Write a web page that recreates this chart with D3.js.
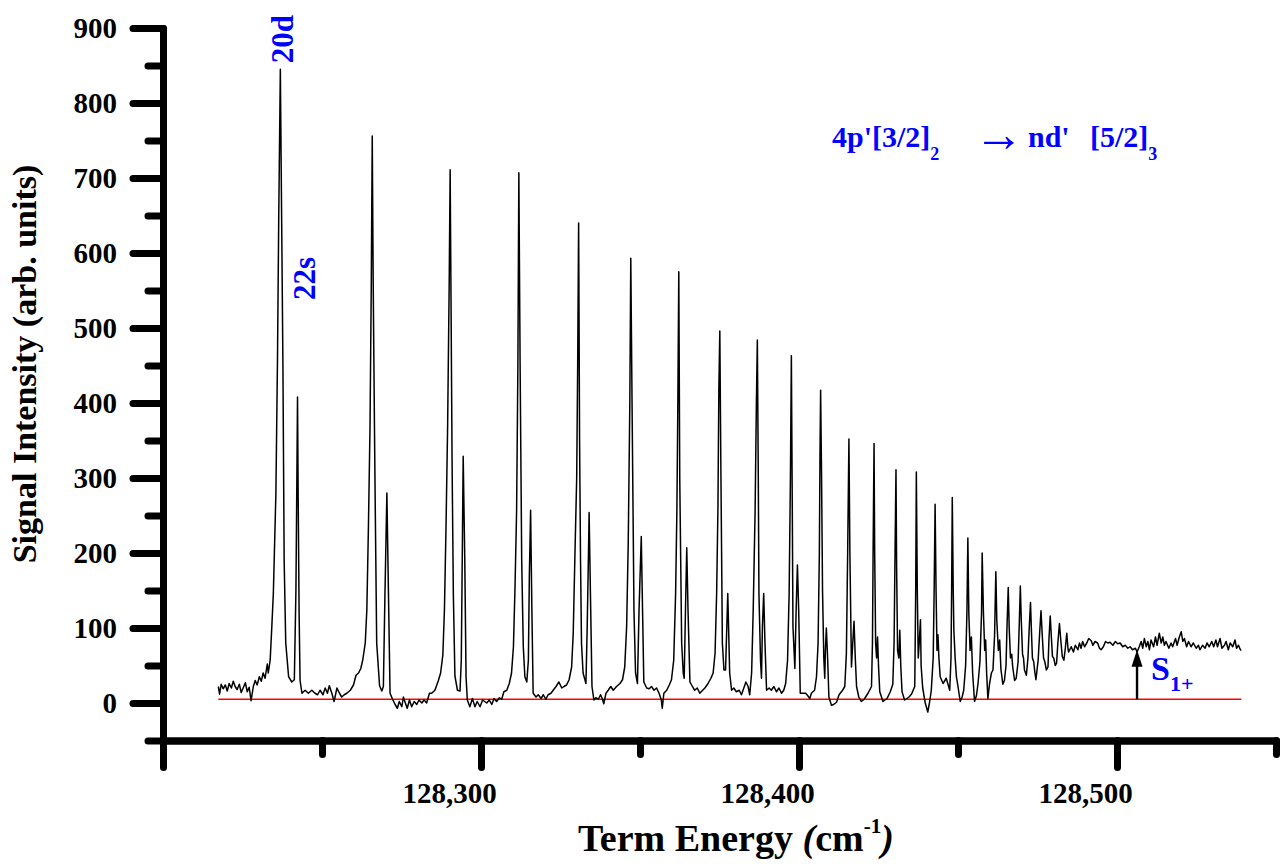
<!DOCTYPE html>
<html>
<head>
<meta charset="utf-8">
<script src="https://cdn.jsdelivr.net/npm/d3@7"></script>
<style>
  html, body { margin: 0; padding: 0; background: #fff; }
  svg { display: block; }
  text { font-family: "Liberation Serif", "Times New Roman", Times, serif; font-weight: bold; }
</style>
</head>
<body>
<svg id="chart" width="1285" height="864"></svg>
<script>
// Ionisation spectrum: term energy (cm^-1) vs signal intensity (arb. units)
const spectrum = [
  [128217.4,22],[128217.8,12],[128218.3,25],[128218.9,19],[128219.6,24],[128220.2,16],[128220.8,26],[128221.5,20],
  [128222.1,29],[128222.7,22],[128223.3,18],[128224.0,25],[128224.6,14],[128225.2,20],[128225.9,27],[128226.5,15],
  [128227.1,21],[128227.7,3],[128228.4,22],[128229.0,30],[128229.6,24],[128230.3,35],[128230.9,29],[128231.5,40],
  [128232.1,33],[128232.8,52],[128233.1,40],[128233.7,57],[128234.2,100],[128234.7,146],[128235.5,279],[128236.0,457],
  [128236.4,650],[128236.9,845],[128237.3,650],[128237.7,457],[128238.1,190],[128238.6,80],[128239.5,35],[128240.5,28],
  [128241.3,31],[128241.8,150],[128242.1,300],[128242.3,408],[128242.5,280],[128242.8,120],[128243.1,30],[128243.7,13],
  [128244.7,17],[128245.7,13],[128246.8,17],[128247.8,13],[128248.6,11],[128249.4,17],[128250.3,11],[128251.0,20],
  [128251.7,13],[128252.3,23],[128253.1,13],[128253.8,2],[128254.7,20],[128255.5,13],[128256.2,8],[128257.0,11],
  [128257.8,13],[128258.9,17],[128259.9,24],[128260.7,37],[128261.5,40],[128262.2,46],[128262.8,57],[128263.6,80],
  [128264.1,124],[128264.6,235],[128265.1,368],[128265.5,560],[128265.8,756],[128266.1,560],[128266.5,368],[128266.7,280],
  [128267.2,80],[128268.1,23],[128268.8,16],[128269.3,22],[128269.8,146],[128270.4,280],[128270.9,146],[128271.4,13],
  [128272.3,4],[128273.0,-2],[128273.7,-7],[128274.3,2],[128275.1,-5],[128275.6,8],[128276.2,0],[128276.8,-7],
  [128277.5,4],[128278.2,-5],[128279.0,2],[128279.8,-2],[128280.5,4],[128281.4,0],[128282.1,4],[128282.9,0],
  [128283.8,13],[128284.5,13],[128285.5,17],[128286.6,30],[128287.3,40],[128288.0,64],[128288.5,124],[128289.0,235],
  [128289.5,368],[128290.0,560],[128290.3,711],[128290.6,520],[128290.9,324],[128291.3,146],[128291.8,36],[128292.6,17],
  [128293.4,16],[128293.8,57],[128294.1,190],[128294.4,329],[128294.9,190],[128295.3,35],[128295.7,4],[128296.5,-5],
  [128297.3,6],[128298.1,-5],[128298.8,2],[128299.7,-5],[128300.5,4],[128301.8,0],[128302.6,4],[128303.4,-2],
  [128304.1,6],[128304.9,2],[128305.8,7],[128306.5,5],[128307.2,15],[128308.1,17],[128308.9,26],[128309.6,40],
  [128310.2,75],[128310.7,155],[128311.2,257],[128311.6,450],[128311.9,707],[128312.3,450],[128312.8,190],[128313.3,75],
  [128313.8,35],[128314.4,28],[128314.9,57],[128315.2,168],[128315.6,257],[128316.0,124],[128316.4,13],[128317.3,8],
  [128318.0,11],[128318.9,6],[128319.6,11],[128320.4,5],[128321.1,11],[128322.0,13],[128322.7,17],[128323.6,22],
  [128324.5,28],[128325.4,20],[128326.1,22],[128326.9,24],[128327.7,31],[128328.5,48],[128329.0,93],[128329.5,190],
  [128330.1,302],[128330.4,450],[128330.7,640],[128331.0,350],[128331.3,190],[128331.6,80],[128332.1,40],[128333.0,26],
  [128333.4,102],[128333.8,200],[128334.0,254],[128334.5,124],[128334.9,22],[128335.5,4],[128336.1,7],[128336.9,5],
  [128337.6,11],[128338.2,5],[128338.6,-1],[128339.3,13],[128340.0,17],[128340.8,22],[128341.6,17],[128342.6,22],
  [128343.7,26],[128344.5,31],[128345.2,48],[128345.8,102],[128346.3,213],[128346.8,400],[128347.1,593],[128347.5,400],
  [128348.1,124],[128348.6,40],[128349.2,26],[128349.7,124],[128350.4,222],[128350.8,124],[128351.2,28],[128352.1,20],
  [128352.9,19],[128353.6,22],[128354.4,17],[128355.2,20],[128356.0,13],[128356.7,4],[128357.0,-7],[128357.5,13],
  [128358.4,17],[128359.2,24],[128359.9,31],[128360.6,57],[128361.2,146],[128361.6,257],[128361.9,400],[128362.2,575],
  [128362.5,300],[128363.1,80],[128363.6,40],[128363.9,33],[128364.3,124],[128364.7,207],[128365.1,124],[128365.7,28],
  [128366.5,22],[128367.2,17],[128368.0,20],[128368.8,13],[128369.7,17],[128370.4,20],[128371.4,26],[128372.3,33],
  [128373.0,40],[128373.6,66],[128374.1,146],[128374.5,257],[128374.8,420],[128375.1,496],[128375.4,330],[128375.9,80],
  [128376.4,44],[128376.9,44],[128377.3,102],[128377.6,146],[128377.9,93],[128378.2,40],[128378.8,17],[128379.5,20],
  [128380.3,15],[128381.2,17],[128381.9,11],[128382.4,17],[128383.3,28],[128384.0,22],[128384.5,11],[128385.1,40],
  [128385.6,124],[128386.2,257],[128386.6,400],[128386.9,484],[128387.2,300],[128387.4,146],[128387.9,57],[128388.2,33],
  [128388.5,102],[128388.9,146],[128389.3,80],[128389.8,17],[128390.6,20],[128391.3,17],[128392.1,22],[128392.9,15],
  [128393.7,20],[128394.5,13],[128395.2,17],[128395.8,26],[128396.4,57],[128396.9,146],[128397.3,300],[128397.6,463],
  [128397.9,250],[128398.1,102],[128398.7,46],[128399.1,124],[128399.5,184],[128399.9,124],[128400.4,13],[128401.3,13],
  [128402.1,13],[128402.7,10],[128403.4,6],[128403.9,13],[128404.9,17],[128405.5,35],[128406.0,80],[128406.4,200],
  [128406.6,330],[128406.8,417],[128407.1,300],[128407.4,150],[128407.8,60],[128408.1,33],[128408.3,70],[128408.6,100],
  [128409.0,60],[128409.4,8],[128410.2,-3],[128410.9,-2],[128411.8,1],[128412.6,11],[128413.7,17],[128414.4,22],
  [128414.9,66],[128415.3,200],[128415.7,352],[128416.0,200],[128416.5,48],[128416.9,80],[128417.3,109],[128417.7,60],
  [128418.1,22],[128418.8,8],[128419.6,2],[128420.5,5],[128421.7,13],[128422.8,22],[128423.1,80],[128423.3,200],
  [128423.6,346],[128423.8,200],[128424.1,80],[128424.4,60],[128424.7,88],[128425.0,50],[128425.4,15],[128426.4,2],
  [128427.7,6],[128428.7,15],[128429.5,25],[128429.9,80],[128430.2,200],[128430.5,311],[128430.7,180],[128431.0,70],
  [128431.4,60],[128431.7,97],[128432.0,50],[128432.4,15],[128433.2,4],[128434.6,8],[128435.4,12],[128436.4,22],
  [128436.7,150],[128436.9,308],[128437.2,150],[128437.5,60],[128437.8,80],[128438.2,111],[128438.4,50],[128438.9,20],
  [128439.7,0],[128440.5,-12],[128441.1,2],[128441.6,17],[128442.2,60],[128442.5,150],[128442.8,265],[128443.1,150],
  [128443.4,70],[128443.7,91],[128444.0,60],[128444.4,35],[128445.3,26],[128446.3,33],[128447.4,17],[128447.8,60],
  [128448.0,150],[128448.2,274],[128448.5,150],[128448.7,97],[128449.1,60],[128449.5,35],[128450.0,22],[128450.7,2],
  [128451.3,8],[128451.8,17],[128452.4,50],[128452.8,120],[128453.1,220],[128453.4,120],[128453.8,70],[128454.2,88],
  [128454.6,40],[128455.2,2],[128455.8,10],[128456.3,26],[128456.9,55],[128457.4,120],[128457.6,200],[128458.0,120],
  [128458.4,70],[128458.7,84],[128459.0,40],[128459.4,6],[128459.9,25],[128460.5,40],[128461.0,44],[128461.5,90],
  [128461.9,175],[128462.2,110],[128462.7,70],[128463.1,84],[128463.5,45],[128464.1,25],[128464.6,30],[128465.1,50],
  [128465.4,100],[128465.8,154],[128466.1,100],[128466.5,60],[128466.9,65],[128467.2,48],[128467.8,30],[128468.3,33],
  [128468.9,55],[128469.3,110],[128469.6,156],[128469.9,110],[128470.3,65],[128470.6,60],[128470.9,44],[128471.5,37],
  [128472.0,60],[128472.4,100],[128472.8,134],[128473.1,95],[128473.4,60],[128473.8,55],[128474.2,40],[128474.5,31],
  [128475.2,57],[128475.7,95],[128476.1,123],[128476.5,90],[128476.9,60],[128477.3,55],[128477.8,44],[128478.3,48],
  [128478.6,85],[128479.0,116],[128479.4,85],[128479.7,62],[128480.1,60],[128480.6,50],[128481.0,53],[128481.4,80],
  [128481.9,106],[128482.4,80],[128482.8,62],[128483.3,57],[128483.8,75],[128484.2,93],[128484.6,72],[128484.8,68],
  [128485.6,75],[128486.3,68],[128486.9,77],[128487.7,71],[128488.2,80],[128488.7,73],[128489.2,82],[128489.8,75],
  [128490.5,80],[128491.1,86],[128491.9,83],[128492.4,77],[128493.1,82],[128493.9,80],[128494.5,73],[128495.0,71],
  [128495.7,75],[128496.4,82],[128497.1,80],[128497.8,81],[128498.7,77],[128499.5,82],[128500.2,79],[128501.0,80],
  [128501.8,75],[128502.6,77],[128503.4,73],[128504.1,75],[128504.9,71],[128505.8,73],[128506.3,68],[128507.0,75],
  [128507.6,82],[128508.1,73],[128508.6,86],[128509.2,75],[128509.7,82],[128510.2,71],[128510.7,84],[128511.5,75],
  [128512.1,88],[128512.6,77],[128513.3,93],[128513.9,80],[128514.4,88],[128514.9,77],[128515.4,82],[128516.3,73],
  [128517.0,80],[128517.5,75],[128518.4,86],[128518.9,77],[128519.6,88],[128520.2,95],[128520.7,82],[128521.2,86],
  [128521.9,75],[128522.5,82],[128523.3,75],[128524.0,80],[128524.9,73],[128525.6,77],[128526.1,71],[128526.9,77],
  [128527.7,73],[128528.3,80],[128529.0,75],[128529.8,82],[128530.4,75],[128531.1,84],[128531.6,75],[128532.4,86],
  [128533.0,73],[128533.8,77],[128534.3,82],[128535.0,71],[128535.6,80],[128536.4,75],[128537.1,84],[128537.6,73],
  [128538.2,77],[128538.8,71],[128539.1,70]
];

// Axis ticks
const xMajorTicks = [128200, 128300, 128400, 128500];
const xMinorTicks = [128250, 128350, 128450, 128550];
const yMajorTicks = [0, 100, 200, 300, 400, 500, 600, 700, 800, 900];
const yMinorTicks = [-50, 50, 150, 250, 350, 450, 550, 650, 750, 850];

// Zero-signal reference line and series limit marker
const baselineLevel = 5;
const baselineSpan = [128217.4, 128539.1];
const limitEnergy = 128506.3;
const limitSignal = 71;

// Line assignments
const peakLabels = [
  { text: "20d", energy: 128236.9, signal: 845 },
  { text: "22s", energy: 128242.3, signal: 408 }
];

const svg = d3.select("#chart");
const serif = '"Liberation Serif", "Times New Roman", Times, serif';
const blue = "#0000ff";

const x = d3.scaleLinear().domain([128200, 128550]).range([163, 1276]);
const y = d3.scaleLinear().domain([-50, 900]).range([740.5, 28]);

function styleAxis(g) {
  g.attr("font-family", serif).attr("font-weight", "bold").attr("font-size", 29);
  g.select(".domain").attr("stroke", "#000").attr("stroke-width", 7).attr("stroke-linecap", "round");
  g.selectAll(".tick line").attr("stroke", "#000").attr("stroke-width", 7).attr("stroke-linecap", "round");
}

// y axis: major ticks with labels, minor ticks without
const yMajor = svg.append("g").attr("transform", `translate(${x(128200)},0)`)
  .call(d3.axisLeft(y).tickValues(yMajorTicks).tickSize(30).tickSizeOuter(0).tickFormat(d3.format("d")));
styleAxis(yMajor);
yMajor.selectAll(".tick text").attr("x", -46).attr("dy", "0.33em").attr("fill", "#000");

const yMinor = svg.append("g").attr("transform", `translate(${x(128200)},0)`)
  .call(d3.axisLeft(y).tickValues(yMinorTicks).tickSize(15).tickSizeOuter(0).tickFormat(() => ""));
styleAxis(yMinor);

// x axis
const xMajor = svg.append("g").attr("transform", `translate(0,${y(-50)})`)
  .call(d3.axisBottom(x).tickValues(xMajorTicks).tickSize(27).tickSizeOuter(0)
    .tickFormat(d => d === 128200 ? "" : d3.format(",")(d)));
styleAxis(xMajor);
xMajor.selectAll(".tick text").attr("dx", -32).attr("y", 62).attr("dy", null).attr("fill", "#000");

const xMinor = svg.append("g").attr("transform", `translate(0,${y(-50)})`)
  .call(d3.axisBottom(x).tickValues(xMinorTicks).tickSize(14).tickSizeOuter(0).tickFormat(() => ""));
styleAxis(xMinor);

// zero reference line
svg.append("line")
  .attr("x1", x(baselineSpan[0])).attr("x2", x(baselineSpan[1]))
  .attr("y1", y(baselineLevel)).attr("y2", y(baselineLevel))
  .attr("stroke", "#ff0000").attr("stroke-width", 1.4);

// spectrum trace
const line = d3.line().x(d => x(d[0])).y(d => y(d[1]));
svg.append("path").datum(spectrum)
  .attr("d", line)
  .attr("fill", "none").attr("stroke", "#000").attr("stroke-width", 1.5)
  .attr("stroke-linejoin", "round");

// series limit arrow
const ax = x(limitEnergy), aTip = y(limitSignal), aBase = y(baselineLevel);
svg.append("line").attr("x1", ax).attr("x2", ax).attr("y1", aBase).attr("y2", aTip + 14)
  .attr("stroke", "#000").attr("stroke-width", 2.4);
svg.append("path")
  .attr("d", `M${ax},${aTip} L${ax - 5.5},${aTip + 17} L${ax + 5.5},${aTip + 17} Z`)
  .attr("fill", "#000");

const sLabel = svg.append("text").attr("x", ax + 14).attr("y", aTip + 30)
  .attr("fill", blue).attr("font-size", 34);
sLabel.append("tspan").text("S");
sLabel.append("tspan").attr("font-size", 22).attr("dy", 11).text("1+");

// peak assignments (vertical text)
svg.append("text")
  .attr("transform", `translate(${x(peakLabels[0].energy) + 13},${y(peakLabels[0].signal) - 6}) rotate(-90)`)
  .attr("fill", blue).attr("font-size", 31).text(peakLabels[0].text);
svg.append("text")
  .attr("transform", `translate(${x(peakLabels[1].energy) + 17},${y(peakLabels[1].signal) - 97}) rotate(-90)`)
  .attr("fill", blue).attr("font-size", 31).text(peakLabels[1].text);

// transition annotation
const tr = svg.append("text").attr("x", 832).attr("y", 147).attr("fill", blue).attr("font-size", 30);
tr.append("tspan").text("4p'[3/2]");
tr.append("tspan").attr("font-size", 18).attr("dy", 13).text("2");
tr.append("tspan").attr("x", 1028).attr("dy", -13).text("nd'");
tr.append("tspan").attr("x", 1090).text("[5/2]");
tr.append("tspan").attr("font-size", 18).attr("dy", 13).text("3");
svg.append("text").attr("x", 974).attr("y", 151)
  .attr("font-family", "DejaVu Serif").attr("font-weight", "normal")
  .attr("font-size", 50).attr("fill", blue)
  .text("\u2192");

// axis titles
svg.append("text")
  .attr("transform", "translate(36,364) rotate(-90)")
  .attr("text-anchor", "middle").attr("font-size", 34).attr("fill", "#000")
  .text("Signal Intensity (arb. units)");

const xt = svg.append("text").attr("x", 578).attr("y", 851).attr("font-size", 38).attr("fill", "#000");
xt.append("tspan").text("Term Energy ");
xt.append("tspan").attr("font-style", "italic").text("(");
xt.append("tspan").text("cm");
xt.append("tspan").attr("font-size", 21).attr("dy", -18).text("-1");
xt.append("tspan").attr("font-style", "italic").attr("dy", 18).text(")");
</script>
</body>
</html>
